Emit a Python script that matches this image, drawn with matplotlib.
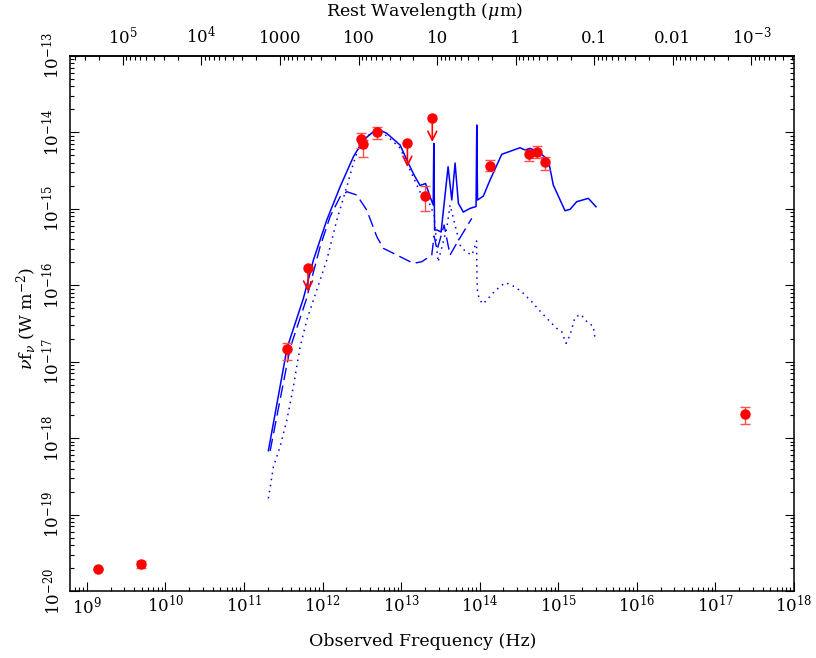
import numpy as np
import matplotlib.pyplot as plt
from matplotlib.ticker import LogLocator, NullFormatter

plt.rcParams['font.family'] = ['DejaVu Serif']
plt.rcParams['mathtext.fontset'] = 'dejavuserif'

redshift = 0.047
c_um = 2.998e14  # micron / s

# photometry with error bars
det_nu = [1.38e9, 4.9e9, 3.53e11, 3.06e12, 3.31e12, 4.93e12, 2.01e13,
          1.35e14, 4.28e14, 5.41e14, 6.78e14, 2.37e17]
det_f = [1.96e-20, 2.25e-20, 1.46e-17, 8.07e-15, 7.0e-15, 1.0e-14, 1.48e-15,
         3.65e-15, 5.14e-15, 5.56e-15, 4.07e-15, 2.06e-18]
det_lo = [1.96e-20, 1.98e-20, 1.04e-17, 6.27e-15, 4.69e-15, 8.15e-15, 9.4e-16,
          3.1e-15, 4.24e-15, 4.55e-15, 3.2e-15, 1.53e-18]
det_hi = [1.96e-20, 2.49e-20, 1.75e-17, 9.84e-15, 7.9e-15, 1.18e-14, 1.98e-15,
          4.33e-15, 5.85e-15, 6.65e-15, 4.78e-15, 2.55e-18]

# upper limits
lim_nu = [6.53e11, 1.2e13, 2.49e13]
lim_f = [1.67e-16, 7.15e-15, 1.52e-14]

# model curves, log10(nu) and log10(nu f_nu)
total_lx = [11.310, 11.548, 11.756, 11.883, 12.053, 12.223, 12.392, 12.519,
            12.646, 12.710, 12.817, 12.986, 13.092, 13.164, 13.240, 13.310,
            13.368, 13.408, 13.415, 13.425, 13.457, 13.508, 13.597, 13.644,
            13.686, 13.728, 13.791, 13.877, 13.953, 13.962, 13.972, 14.046,
            14.131, 14.280, 14.513, 14.576, 14.640, 14.746, 14.873, 14.936,
            15.085, 15.149, 15.234, 15.382, 15.480]
total_ly = [-18.165, -16.822, -16.172, -15.672, -15.149, -14.713, -14.321, -14.102,
            -13.994, -13.962, -14.015, -14.168, -14.407, -14.560, -14.697, -14.671,
            -14.844, -14.952, -14.146, -15.279, -15.279, -15.305, -14.452, -14.887,
            -14.403, -14.930, -15.044, -14.996, -14.972, -13.906, -14.887, -14.835,
            -14.625, -14.289, -14.203, -14.233, -14.211, -14.255, -14.364, -14.691,
            -15.027, -15.009, -14.909, -14.865, -14.975]

agn_lx = [11.332, 11.587, 11.790, 11.968, 12.095, 12.223, 12.308, 12.435,
          12.562, 12.690, 12.774, 12.944, 13.155, 13.262, 13.389, 13.419,
          13.457, 13.546, 13.622, 13.707, 13.898]
agn_ly = [-18.169, -16.822, -16.195, -15.498, -15.105, -14.844, -14.778, -14.822,
          -15.018, -15.367, -15.519, -15.606, -15.715, -15.694, -15.606, -15.358,
          -15.541, -15.214, -15.606, -15.453, -15.126]

sb_lx = [11.310, 11.374, 11.459, 11.545, 11.628, 11.714, 11.799, 11.883,
         12.053, 12.181, 12.308, 12.392, 12.477, 12.604, 12.706, 12.821,
         12.986, 13.088, 13.240, 13.304, 13.368, 13.419, 13.469, 13.581,
         13.622, 13.686, 13.749, 13.823, 13.902, 13.959, 13.965, 13.972,
         13.995, 14.038, 14.089, 14.195, 14.322, 14.407, 14.534, 14.662,
         14.767, 14.894, 14.980, 15.043, 15.098, 15.149, 15.212, 15.285,
         15.382, 15.445, 15.467]
sb_ly = [-18.788, -18.375, -18.113, -17.764, -17.329, -16.805, -16.456, -16.195,
         -15.672, -15.149, -14.713, -14.407, -14.146, -14.024, -13.991, -14.050,
         -14.207, -14.442, -14.782, -14.782, -14.952, -15.083, -15.698, -15.253,
         -14.952, -15.214, -15.476, -15.567, -15.606, -15.423, -15.933, -16.090,
         -16.182, -16.247, -16.195, -16.073, -15.968, -15.999, -16.086, -16.217,
         -16.339, -16.478, -16.565, -16.609, -16.761, -16.652, -16.421, -16.382,
         -16.499, -16.535, -16.696]

xticks = [1e9, 1e10, 1e11, 1e12, 1e13, 1e14, 1e15, 1e16, 1e17, 1e18]
xticklabels = [r'$10^{9}$', r'$10^{10}$', r'$10^{11}$', r'$10^{12}$', r'$10^{13}$',
               r'$10^{14}$', r'$10^{15}$', r'$10^{16}$', r'$10^{17}$', r'$10^{18}$']
yticks = [1e-20, 1e-19, 1e-18, 1e-17, 1e-16, 1e-15, 1e-14, 1e-13]
yticklabels = [r'$10^{-20}$', r'$10^{-19}$', r'$10^{-18}$', r'$10^{-17}$',
               r'$10^{-16}$', r'$10^{-15}$', r'$10^{-14}$', r'$10^{-13}$']
wticks = [1e5, 1e4, 1e3, 100, 10, 1, 0.1, 0.01, 1e-3]
wticklabels = [r'$10^{5}$', r'$10^{4}$', '1000', '100', '10', '1', '0.1', '0.01',
               r'$10^{-3}$']

fig = plt.figure(figsize=(8.16, 6.58), dpi=100)
ax = fig.add_axes([0.0858, 0.1018, 0.8873, 0.8135])
ax.set_xscale('log')
ax.set_yscale('log')

ax.plot(10 ** np.array(total_lx), 10 ** np.array(total_ly), color='#0000ff', lw=1.1)
ax.plot(10 ** np.array(agn_lx), 10 ** np.array(agn_ly), color='#0000ff', lw=1.0,
        ls=(0, (9, 4)))
ax.plot(10 ** np.array(sb_lx), 10 ** np.array(sb_ly), color='#0000ff', lw=1.1,
        ls=(0, (1, 3)))

det_f = np.array(det_f)
yerr = [det_f - np.array(det_lo), np.array(det_hi) - det_f]
ax.errorbar(det_nu, det_f, yerr=yerr, fmt='none', ecolor='#ff5050', elinewidth=1.0,
            capsize=3.5, capthick=1.0, zorder=4)
ax.plot(det_nu, det_f, 'o', color='#ff0000', ms=6.5, zorder=5)
ax.plot(lim_nu, lim_f, 'o', color='#ff0000', ms=6.5, zorder=5)
for nu, f in zip(lim_nu, lim_f):
    ax.annotate('', xy=(nu, f * 10 ** -0.31), xytext=(nu, f),
                arrowprops=dict(arrowstyle='->', color='#ff0000', lw=1.2,
                                mutation_scale=16, shrinkA=0, shrinkB=0),
                zorder=5)

ax.set_xlim(6.1e8, 1e18)
ax.set_ylim(1e-20, 1e-13)

ax.set_xticks(xticks, xticklabels, fontsize=12)
ax.set_yticks(yticks, yticklabels, fontsize=12, rotation=90, va='center')
ax.xaxis.set_minor_locator(LogLocator(base=10, subs=np.arange(2, 10), numticks=50))
ax.yaxis.set_minor_locator(LogLocator(base=10, subs=np.arange(2, 10), numticks=50))
ax.xaxis.set_minor_formatter(NullFormatter())
ax.yaxis.set_minor_formatter(NullFormatter())
ax.tick_params(which='both', direction='in', top=False, right=True, width=0.8)
ax.tick_params(which='major', length=6.5, pad=3)
ax.tick_params(which='minor', length=3.2)
ax.tick_params(axis='y', which='major', pad=5)
for s in ax.spines.values():
    s.set_linewidth(1.1)

ax.set_xlabel('Observed Frequency (Hz)', fontsize=12.5)
ax.xaxis.set_label_coords(0.487, -0.078)
ax.set_ylabel(r'$\nu$f$_\nu$ (W m$^{-2}$)', fontsize=12.5)
ax.yaxis.set_label_coords(-0.043, 0.51)


def nu_to_lam(x):
    x = np.asarray(x, dtype=float)
    with np.errstate(divide='ignore'):
        return c_um / (x * (1 + redshift))


sec = ax.secondary_xaxis('top', functions=(nu_to_lam, nu_to_lam))
sec.set_xticks(wticks, wticklabels, fontsize=12)
sec.xaxis.set_minor_locator(LogLocator(base=10, subs=np.arange(2, 10), numticks=50))
sec.xaxis.set_minor_formatter(NullFormatter())
sec.tick_params(which='both', direction='in', width=0.8)
sec.tick_params(which='major', length=6.5, pad=6)
sec.tick_params(which='minor', length=3.2)
sec.spines['top'].set_linewidth(1.1)
ax.text(0.49, 1.063, r'Rest Wavelength ($\mu$m)', fontsize=12.5,
        transform=ax.transAxes, ha='center', va='bottom')

fig.savefig('out.png', dpi=100)
